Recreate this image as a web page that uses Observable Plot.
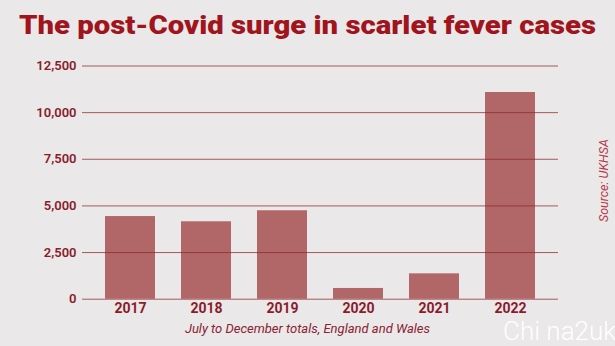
<!DOCTYPE html>
<html>
<head>
<meta charset="utf-8">
<script src="https://cdn.jsdelivr.net/npm/d3@7"></script>
<script src="https://cdn.jsdelivr.net/npm/@observablehq/plot@0.6"></script>
<style>
  html, body { margin: 0; padding: 0; background: #eae8e8; }
  #wrap { position: relative; width: 615px; height: 346px; overflow: hidden; background: #eae8e8; }
  #title { position: absolute; left: 19px; top: 13px; font-family: Roboto, sans-serif; font-weight: 900; font-size: 25px; line-height: 25px; color: #a0151d; white-space: nowrap; transform-origin: 0 0; }
  #chart { position: absolute; left: 0; top: 50px; }
  #mark { position: absolute; left: 503px; top: 316px; font-family: Roboto, sans-serif; font-weight: 300; font-size: 26px; color: #ffffff; white-space: nowrap; }
</style>
</head>
<body>
<div id="wrap">
  <div id="title">The post-Covid surge in scarlet fever cases</div>
  <div id="chart"></div>
  <div id="mark">Chi na2uk</div>
</div>
<script>
const years = ["2017", "2018", "2019", "2020", "2021", "2022"];
const cases = [4430, 4150, 4740, 575, 1360, 11080];
const yTicks = [0, 2500, 5000, 7500, 10000, 12500];
const caption = "July to December totals, England and Wales";
const source = "Source: UKHSA";

const data = years.map((y, i) => ({year: y, cases: cases[i]}));

const plot = Plot.plot({
  width: 615,
  height: 296,
  marginLeft: 82,
  marginRight: 57,
  marginTop: 15.5,
  marginBottom: 47.3,
  style: {background: "transparent", fontFamily: "Roboto, sans-serif", overflow: "visible"},
  x: {domain: years, paddingInner: 0.34, paddingOuter: 0.3, label: null},
  y: {domain: [0, 12500], label: null},
  marks: [
    Plot.barY(data, {x: "year", y: "cases", fill: "#b16767"}),
    Plot.ruleY(yTicks, {stroke: "#8e2a2e", strokeOpacity: 0.75, strokeWidth: 1}),
    Plot.axisY({ticks: yTicks, tickSize: 0, tickPadding: 6, tickFormat: d3.format(","), fill: "#8a1c2c", fontSize: 13, fontWeight: 600, label: null}),
    Plot.axisX({tickSize: 0, tickPadding: 4, fill: "#8a1c2c", fontSize: 14, fontWeight: 700, label: null}),
    Plot.text([caption], {frameAnchor: "bottom", dx: -13, dy: 33.3, fill: "#8b2233", fontSize: 13, fontStyle: "italic"}),
    Plot.text([source], {frameAnchor: "right", textAnchor: "middle", dx: 45, dy: -2, rotate: -90, fill: "#b83a48", fontSize: 12.5, fontStyle: "italic"})
  ]
});
document.getElementById("chart").appendChild(plot);

const t = document.getElementById("title");
const w = t.getBoundingClientRect().width;
t.style.transform = `scaleX(${577 / w})`;
</script>
</body>
</html>
